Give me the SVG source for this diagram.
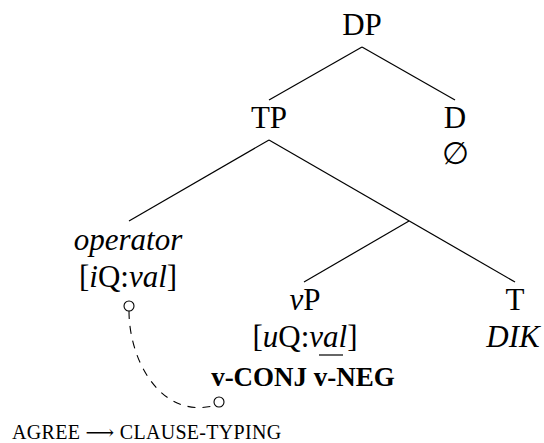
<svg xmlns="http://www.w3.org/2000/svg" width="544" height="443" viewBox="0 0 544 443">
  <style>
    text { font-family: "Liberation Serif", "Times New Roman", serif; font-size: 31px; fill: #000; text-anchor: middle; }
    .it { font-style: italic; }
    .bf { font-weight: bold; font-size: 27px; }
    .sc { font-size: 20px; text-anchor: start; letter-spacing: 0.3px; }
    .edge { stroke: #000; stroke-width: 1.2; fill: none; }
    .agree { stroke: #000; stroke-width: 1.1; fill: none; stroke-dasharray: 8 7; }
    .probe { stroke: #000; stroke-width: 1.1; fill: #fff; }
  </style>

  <!-- tree branches -->
  <g id="edges">
    <line class="edge" x1="362" y1="47" x2="269" y2="100"/>
    <line class="edge" x1="362" y1="47" x2="455" y2="100"/>
    <line class="edge" x1="269" y1="140" x2="129" y2="221"/>
    <line class="edge" x1="269" y1="140" x2="515" y2="282"/>
    <line class="edge" x1="409" y1="221" x2="304" y2="282"/>
  </g>

  <g id="DP"><text x="362" y="35">DP</text></g>
  <g id="TP"><text x="269" y="128">TP</text></g>
  <g id="D">
    <text x="455" y="128">D</text>
    <text x="455" y="164">∅</text>
  </g>
  <g id="operator">
    <text x="128" y="250" class="it">operator</text>
    <text x="128" y="287">[<tspan class="it">i</tspan>Q:<tspan class="it">val</tspan>]</text>
  </g>
  <g id="vP">
    <text x="305" y="310"><tspan class="it">v</tspan>P</text>
    <text x="305" y="347">[<tspan class="it">u</tspan>Q:<tspan class="it">val</tspan>]</text>
    <line class="edge" x1="319" y1="355" x2="343" y2="355"/>
    <text x="303" y="386" class="bf">v-CONJ v-NEG</text>
  </g>
  <g id="T">
    <text x="515" y="310">T</text>
    <text x="513" y="347" class="it">DIK</text>
  </g>

  <!-- agreement relation between operator and vP -->
  <g id="agree">
    <path class="agree" d="M129,311 C129,360 160,418 213,406"/>
    <circle class="probe" cx="129" cy="306" r="5"/>
    <circle class="probe" cx="219" cy="402" r="5"/>
  </g>

  <g id="caption"><text x="12" y="439" class="sc">AGREE <tspan font-family="DejaVu Serif">⟶</tspan> CLAUSE-TYPING</text></g>
</svg>
